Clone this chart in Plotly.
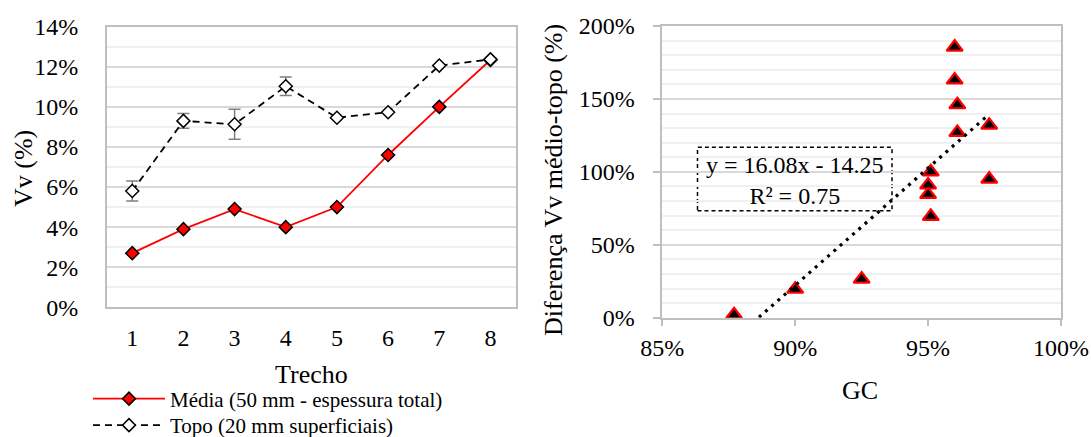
import plotly.graph_objects as go

# ---------------- data ----------------
trecho = [1, 2, 3, 4, 5, 6, 7, 8]
media = [0.027, 0.039, 0.049, 0.040, 0.050, 0.076, 0.100, 0.1234]
topo = [0.058, 0.093, 0.0913, 0.1103, 0.0946, 0.0973, 0.1206, 0.1237]
topo_err = [0.0050, 0.0037, 0.0075, 0.0046, 0.0, 0.0, 0.0, 0.0]

gc = [0.877, 0.900, 0.925, 0.950, 0.950, 0.951, 0.951, 0.960, 0.960, 0.961, 0.961, 0.973, 0.973]
diff = [0.02, 0.195, 0.265, 0.845, 0.91, 1.00, 0.695, 1.855, 1.63, 1.46, 1.27, 1.32, 0.95]

trend_slope = 16.08
trend_intercept = -14.25
trend_r2 = 0.75

left_yticks = [0, 0.02, 0.04, 0.06, 0.08, 0.10, 0.12, 0.14]
left_yticktext = ["0%", "2%", "4%", "6%", "8%", "10%", "12%", "14%"]
right_xticks = [0.85, 0.90, 0.95, 1.00]
right_xticktext = ["85%", "90%", "95%", "100%"]
right_yticks = [0, 0.5, 1.0, 1.5, 2.0]
right_yticktext = ["0%", "50%", "100%", "150%", "200%"]

W, H = 1091, 437
FONT = "Liberation Serif, Times New Roman, serif"
GRID = "#d9d9d9"
MINOR = "#f0f0f0"
AXIS = "#bfbfbf"


def px(x):
    return x / W


def py(y):
    return 1 - y / H


fig = go.Figure()

fig.add_trace(go.Scatter(
    x=trecho, y=media, mode="lines+markers",
    name="Média (50 mm - espessura total)",
    line=dict(color="#ff0000", width=1.8),
    marker=dict(symbol="diamond", size=10, color="#ff0000",
                line=dict(color="black", width=1.5)),
    xaxis="x", yaxis="y", legend="legend",
))
fig.add_trace(go.Scatter(
    x=trecho, y=topo, mode="lines+markers",
    name="Topo (20 mm superficiais)",
    line=dict(color="black", width=1.8, dash="7px,5px"),
    marker=dict(symbol="diamond", size=10, color="white",
                line=dict(color="black", width=1.5)),
    error_y=dict(type="data", array=topo_err, visible=True,
                 color="#7f7f7f", thickness=1.5, width=6),
    xaxis="x", yaxis="y", legend="legend2",
))

# right chart
fig.add_trace(go.Scatter(
    x=gc, y=diff, mode="markers", showlegend=False,
    marker=dict(symbol="triangle-up", size=14, color="black",
                line=dict(color="#ff0000", width=2.2)),
    xaxis="x2", yaxis="y2",
))
x_fit = [min(gc), max(gc)]
y_fit = [trend_slope * v + trend_intercept for v in x_fit]
fig.add_trace(go.Scatter(
    x=x_fit, y=y_fit, mode="lines", showlegend=False,
    line=dict(color="black", width=3.2, dash="3px,5.3px"),
    xaxis="x2", yaxis="y2",
))

tickfont = dict(family=FONT, size=24, color="black")
legfont = dict(family=FONT, size=21, color="black")

fig.update_layout(
    width=W, height=H,
    margin=dict(l=0, r=0, t=0, b=0, autoexpand=False),
    paper_bgcolor="white", plot_bgcolor="white",
    font=dict(family=FONT, color="black"),
    xaxis=dict(
        domain=[px(106.7), px(516)], range=[0.5, 8.5],
        tickvals=trecho, ticktext=[str(t) for t in trecho],
        tickfont=tickfont, showgrid=False, zeroline=False,
        showline=True, linecolor=AXIS, linewidth=1.5, mirror=True,
        ticks="", ticklabelstandoff=8, automargin=False,
    ),
    yaxis=dict(
        domain=[py(307.3), py(26.7)], range=[0, 0.14],
        tickvals=left_yticks, ticktext=left_yticktext,
        tickfont=tickfont, showgrid=True, gridcolor=GRID, gridwidth=1.5,
        minor=dict(dtick=0.01, showgrid=True, gridcolor=MINOR, gridwidth=1.5),
        zeroline=False, showline=True, linecolor=AXIS, linewidth=1.5,
        mirror=True, ticks="", ticklabelstandoff=22, automargin=False,
    ),
    xaxis2=dict(
        domain=[px(662.3), px(1061)], range=[0.85, 1.0],
        tickvals=right_xticks, ticktext=right_xticktext,
        tickfont=tickfont, showgrid=False, zeroline=False,
        showline=True, linecolor=AXIS, linewidth=1.5, mirror=True,
        ticks="outside", ticklen=7, tickwidth=1.5, tickcolor=AXIS,
        ticklabelstandoff=1, anchor="y2", automargin=False,
    ),
    yaxis2=dict(
        domain=[py(317.7), py(26)], range=[0, 2.0],
        tickvals=right_yticks, ticktext=right_yticktext,
        tickfont=tickfont, showgrid=True, gridcolor=GRID, gridwidth=1.5,
        minor=dict(dtick=0.1, showgrid=True, gridcolor=MINOR, gridwidth=1.5),
        zeroline=False, showline=True, linecolor=AXIS, linewidth=1.5,
        mirror=True, ticks="outside", ticklen=8, tickwidth=1.5, tickcolor=AXIS,
        ticklabelstandoff=13, anchor="x2", automargin=False,
    ),
    legend=dict(
        x=px(88), y=py(399), xanchor="left", yanchor="middle",
        font=legfont, bgcolor="rgba(0,0,0,0)", itemwidth=72,
    ),
    legend2=dict(
        x=px(88), y=py(425.5), xanchor="left", yanchor="middle",
        font=legfont, bgcolor="rgba(0,0,0,0)", itemwidth=72,
    ),
    showlegend=True,
)

fig.add_shape(
    type="rect", xref="paper", yref="paper",
    x0=px(697.5), x1=px(892), y0=py(210.7), y1=py(147.3),
    line=dict(color="black", width=1.5, dash="4px,3px"),
    fillcolor="white", layer="between",
)

annots = [
    dict(x=px(23), y=py(168), text="Vv (%)", textangle=-90, size=26),
    dict(x=px(553), y=py(180), text="Diferença Vv médio-topo (%)", textangle=-90, size=26),
    dict(x=px(311), y=py(374), text="Trecho", textangle=0, size=26),
    dict(x=px(860), y=py(390), text="GC", textangle=0, size=26),
    dict(x=px(794.7), y=py(180),
         text=f"y = {trend_slope:.2f}x - {abs(trend_intercept):.2f}<br>R² = {trend_r2:.2f}",
         textangle=0, size=24),
]
for a in annots:
    fig.add_annotation(
        x=a["x"], y=a["y"], xref="paper", yref="paper",
        text=a["text"], textangle=a["textangle"], showarrow=False,
        xanchor="center", yanchor="middle",
        font=dict(family=FONT, size=a["size"], color="black"),
    )

fig.write_html("out.html")
